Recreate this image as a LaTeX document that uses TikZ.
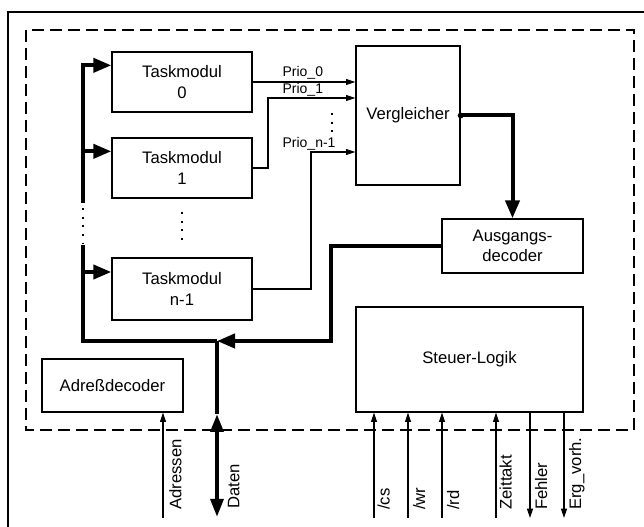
\documentclass[tikz,border=0pt]{standalone}
\usepackage{fontspec}
\setmainfont{Liberation Sans}
\usetikzlibrary{arrows.meta}

\begin{document}
\begin{tikzpicture}[x=0.75pt,y=-0.75pt,
  block/.style={draw, line width=1pt, align=center, inner sep=0pt, font=\fontsize{12.5}{15.5}\selectfont},
  bus/.style={line width=3pt},
  busarrow/.style={bus, -{Triangle[length=13.5pt,width=10.5pt]}},
  sig/.style={line width=0.8pt, -{Triangle[length=7pt,width=4.5pt]}},
  prio/.style={font=\fontsize{10.5}{12}\selectfont, inner sep=1pt, anchor=south west},
  sigtext/.style={font=\fontsize{12.5}{14}\selectfont, inner sep=1pt, rotate=90, anchor=north west},
  dotline/.style={line width=1.5pt, dash pattern=on 1.5pt off 5pt}]
  \useasboundingbox (0,0) rectangle (644,527);
  \draw[line width=1.2pt] (644,12) -| (8,527);
  \draw[line width=1pt, dash pattern=on 9pt off 4.5pt] (26,30) rectangle (634,430);

  \node[block, minimum width=105pt, minimum height=45pt]     (tm0)    at (182,82)    {Taskmodul\\0};
  \node[block, minimum width=105pt, minimum height=45pt]     (tm1)    at (182,168)   {Taskmodul\\1};
  \node[block, minimum width=105pt, minimum height=46.5pt]   (tmn)    at (182,289)   {Taskmodul\\n-1};
  \node[block, minimum width=78pt, minimum height=104.25pt]  (verg)   at (408,115.5) {Vergleicher};
  \node[block, minimum width=105.75pt, minimum height=40.5pt](ausg)   at (512.5,246) {Ausgangs-\\decoder};
  \node[block, minimum width=170.25pt, minimum height=78.75pt](steuer) at (469.5,359.5) {Steuer-Logik};
  \node[block, minimum width=105.75pt, minimum height=39.75pt](adr)    at (112.5,385.5) {Adreßdecoder};

  \coordinate (busx)  at (83,0);
  \coordinate (in0)   at ([yshift=-10.5pt]tm0.north west);
  \coordinate (in1)   at ([yshift=-10.5pt]tm1.north west);
  \coordinate (inn)   at ([yshift=-11pt]tmn.north west);
  \coordinate (daten) at (217,341);
  \draw[busarrow] (83,203) |- (in0);
  \draw[busarrow] (in1 -| busx) -- (in1);
  \draw[busarrow] (inn -| busx) -- (inn);
  \draw[bus] (daten) -| (83,245);
  \draw[dotline] (83,208) -- (83,243);
  \draw[dotline] (182,212) -- (182,240);

  \coordinate (k1) at (268,98);
  \coordinate (kn) at (311,152);
  \draw[sig] (tm0.east) -- (tm0.east -| verg.west);
  \draw[sig] (tm1.east) -| (k1) -- (k1 -| verg.west);
  \draw[sig] (tmn.east) -| (kn) -- (kn -| verg.west);
  \node[prio] (p0) at (281,81)  {Prio\_0};
  \node[prio] (p1) at (281,98)  {Prio\_1};
  \node[prio] (pn) at (281,152) {Prio\_n-1};
  \draw[dotline] (332,113) -- (332,132);

  \draw[busarrow] (verg.east) -| (ausg.north);
  \fill (verg.east) circle[radius=2.2pt];
  \draw[busarrow] (ausg.west) -| (331,341) -- (daten);

  \coordinate (adin) at (163,518);
  \coordinate (dat)  at (217,517);
  \coordinate (cs)   at (374,518);
  \coordinate (wr)   at (408,518);
  \coordinate (rd)   at (442,518);
  \coordinate (zt)   at (496,518);
  \coordinate (fe)   at (530,518);
  \coordinate (erg)  at (564,518);
  \draw[sig] (adin) -- (adin |- adr.south);
  \draw[bus] (daten) -- (217,414);
  \draw[bus, {Triangle[length=13.5pt,width=9.5pt]}-{Triangle[length=13.5pt,width=9.5pt]}] (217,414) -- (dat);
  \draw[sig] (cs) -- (cs |- steuer.south);
  \draw[sig] (wr) -- (wr |- steuer.south);
  \draw[sig] (rd) -- (rd |- steuer.south);
  \draw[sig] (zt) -- (zt |- steuer.south);
  \draw[sig] (fe |- steuer.south) -- (fe);
  \draw[sig] (erg |- steuer.south) -- (erg);

  \node[sigtext] (ladr) at ([xshift=3.5pt,yshift=5pt]adin) {Adressen};
  \node[sigtext] (ldat) at ([xshift=7pt,yshift=5pt]dat)   {Daten};
  \node[sigtext] (lcs)  at ([xshift=1.5pt,yshift=5pt]cs)  {/cs};
  \node[sigtext] (lwr)  at ([xshift=2.5pt,yshift=5pt]wr)  {/wr};
  \node[sigtext] (lrd)  at ([xshift=2.5pt,yshift=5pt]rd)  {/rd};
  \node[sigtext] (lzt)  at ([xshift=1.5pt,yshift=5pt]zt)  {Zeittakt};
  \node[sigtext] (lfe)  at ([xshift=2.5pt,yshift=5pt]fe)  {Fehler};
  \node[sigtext] (lerg) at ([xshift=2.5pt,yshift=5pt]erg) {Erg\_vorh.};
\end{tikzpicture}
\end{document}
